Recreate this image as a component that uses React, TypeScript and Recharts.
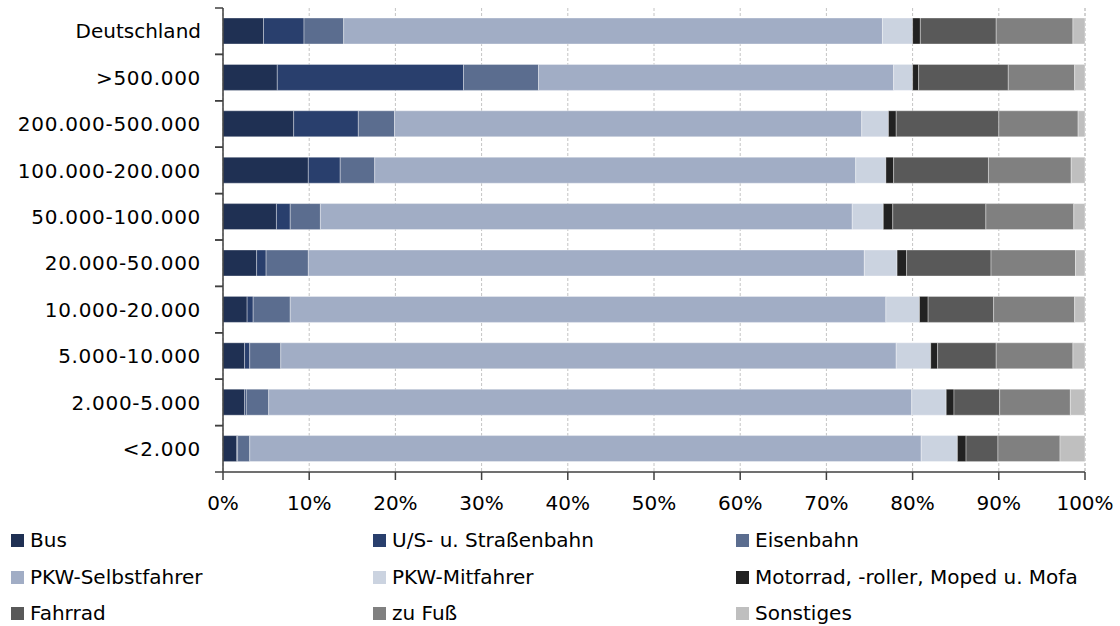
import React from 'react';
import { BarChart, Bar, XAxis, YAxis, CartesianGrid } from 'recharts';

// Verkehrsmittelwahl nach Gemeindegröße (Anteile in %)
const categories = [
  'Deutschland',
  '>500.000',
  '200.000-500.000',
  '100.000-200.000',
  '50.000-100.000',
  '20.000-50.000',
  '10.000-20.000',
  '5.000-10.000',
  '2.000-5.000',
  '<2.000',
];

const bus = [4.7, 6.3, 8.2, 9.9, 6.2, 3.9, 2.8, 2.5, 2.5, 1.6];
const stadtbahn = [4.7, 21.6, 7.5, 3.7, 1.6, 1.1, 0.7, 0.6, 0.2, 0.1];
const eisenbahn = [4.6, 8.7, 4.2, 4.0, 3.5, 4.9, 4.3, 3.6, 2.6, 1.4];
const pkwSelbst = [62.5, 41.2, 54.2, 55.8, 61.7, 64.5, 69.1, 71.4, 74.6, 77.9];
const pkwMit = [3.5, 2.2, 3.1, 3.5, 3.6, 3.8, 3.9, 4.0, 4.0, 4.2];
const motorrad = [0.9, 0.7, 0.9, 0.9, 1.1, 1.1, 1.0, 0.8, 0.9, 1.0];
const fahrrad = [8.8, 10.4, 11.9, 11.0, 10.8, 9.8, 7.6, 6.8, 5.3, 3.7];
const zuFuss = [8.9, 7.7, 9.2, 9.6, 10.2, 9.8, 9.4, 8.9, 8.2, 7.2];
const sonstiges = [1.4, 1.2, 0.8, 1.6, 1.3, 1.1, 1.2, 1.4, 1.7, 2.9];

const xTicks = [0, 10, 20, 30, 40, 50, 60, 70, 80, 90, 100];

const series = [
  { key: 'bus', name: 'Bus', color: '#1f3053', values: bus },
  { key: 'stadtbahn', name: 'U/S- u. Straßenbahn', color: '#293f6d', values: stadtbahn },
  { key: 'eisenbahn', name: 'Eisenbahn', color: '#5b6d8f', values: eisenbahn },
  { key: 'pkwSelbst', name: 'PKW-Selbstfahrer', color: '#a1adc5', values: pkwSelbst },
  { key: 'pkwMit', name: 'PKW-Mitfahrer', color: '#cbd3e0', values: pkwMit },
  { key: 'motorrad', name: 'Motorrad, -roller, Moped u. Mofa', color: '#222222', values: motorrad },
  { key: 'fahrrad', name: 'Fahrrad', color: '#595959', values: fahrrad },
  { key: 'zuFuss', name: 'zu Fuß', color: '#808080', values: zuFuss },
  { key: 'sonstiges', name: 'Sonstiges', color: '#bfbfbf', values: sonstiges },
];

const data = categories.map((name, i) => {
  const row: Record<string, string | number> = { name };
  series.forEach((s) => {
    row[s.key] = s.values[i];
  });
  return row;
});

const FONT = '"DejaVu Sans", sans-serif';
const FONT_SIZE = 20;
const WIDTH = 1120;
const HEIGHT = 626;
const MARGIN = { top: 8, right: 35, left: 0, bottom: 114 };
const X_AXIS_HEIGHT = 40;
const Y_AXIS_WIDTH = 223;
const TICK_SIZE = 8;
const Y_TICK_MARGIN = 14;
const BAND = (HEIGHT - MARGIN.top - MARGIN.bottom - X_AXIS_HEIGHT) / categories.length;
const AXIS_COLOR = '#404040';

// Category label with tick marks on the band boundaries
const CategoryTick = (props: any) => {
  const { x, y, payload } = props;
  const lx1 = x + Y_TICK_MARGIN;
  const lx2 = lx1 + TICK_SIZE;
  const numeric = /\d/.test(String(payload.value));
  return (
    <g>
      <line x1={lx1} x2={lx2} y1={y - BAND / 2} y2={y - BAND / 2} stroke={AXIS_COLOR} strokeWidth={1.5} />
      <line x1={lx1} x2={lx2} y1={y + BAND / 2} y2={y + BAND / 2} stroke={AXIS_COLOR} strokeWidth={1.5} />
      <text
        x={x}
        y={y}
        dy="0.36em"
        textAnchor="end"
        fontFamily={FONT}
        fontSize={FONT_SIZE}
        letterSpacing={numeric ? 0.7 : 0}
        fill="#000"
      >
        {payload.value}
      </text>
    </g>
  );
};

const legendColumns = [11, 373, 736];
const legendRows = [534, 571, 607];

export default function App() {
  return (
    <div
      style={{
        position: 'absolute',
        left: 0,
        top: 0,
        width: WIDTH,
        height: HEIGHT,
        background: '#fff',
        fontFamily: FONT,
      }}
    >
      <BarChart width={WIDTH} height={HEIGHT} data={data} layout="vertical" margin={MARGIN}>
        <CartesianGrid horizontal={false} stroke="#c4c4c4" strokeDasharray="3 2" />
        <XAxis
          type="number"
          domain={[0, 100]}
          ticks={xTicks}
          interval={0}
          tickFormatter={(v: number) => `${v}%`}
          height={X_AXIS_HEIGHT}
          tickSize={TICK_SIZE}
          tickMargin={16}
          axisLine={{ stroke: AXIS_COLOR, strokeWidth: 1.5 }}
          tickLine={{ stroke: AXIS_COLOR, strokeWidth: 1.5 }}
          tick={{ fill: '#000', fontFamily: FONT, fontSize: FONT_SIZE }}
        />
        <XAxis
          xAxisId="top"
          orientation="top"
          type="number"
          domain={[0, 100]}
          height={0}
          tick={false}
          tickLine={false}
          axisLine={{ stroke: '#8a8a8a', strokeWidth: 1.5 }}
        />
        <YAxis
          type="category"
          dataKey="name"
          width={Y_AXIS_WIDTH}
          interval={0}
          tickSize={TICK_SIZE}
          tickMargin={Y_TICK_MARGIN}
          tickLine={false}
          axisLine={{ stroke: AXIS_COLOR, strokeWidth: 1.5 }}
          tick={<CategoryTick />}
        />
        <YAxis
          yAxisId="right"
          orientation="right"
          type="category"
          dataKey="name"
          width={0}
          tick={false}
          tickLine={false}
          axisLine={{ stroke: '#000', strokeWidth: 1.5 }}
        />
        {series.map((s) => (
          <Bar
            key={s.key}
            dataKey={s.key}
            name={s.name}
            stackId="modal"
            fill={s.color}
            barSize={26}
            stroke="#ffffff"
            strokeOpacity={0.35}
            strokeWidth={1}
            isAnimationActive={false}
          />
        ))}
      </BarChart>
      {series.map((s, i) => {
        const left = legendColumns[i % 3];
        const top = legendRows[Math.floor(i / 3)];
        return (
          <div
            key={s.key}
            style={{
              position: 'absolute',
              left,
              top: top - 6,
              height: 25,
              display: 'flex',
              alignItems: 'center',
              whiteSpace: 'nowrap',
            }}
          >
            <span
              style={{
                display: 'inline-block',
                width: 13,
                height: 13,
                background: s.color,
                marginRight: 6,
              }}
            />
            <span style={{ fontSize: FONT_SIZE, color: '#000', lineHeight: '25px' }}>{s.name}</span>
          </div>
        );
      })}
    </div>
  );
}
